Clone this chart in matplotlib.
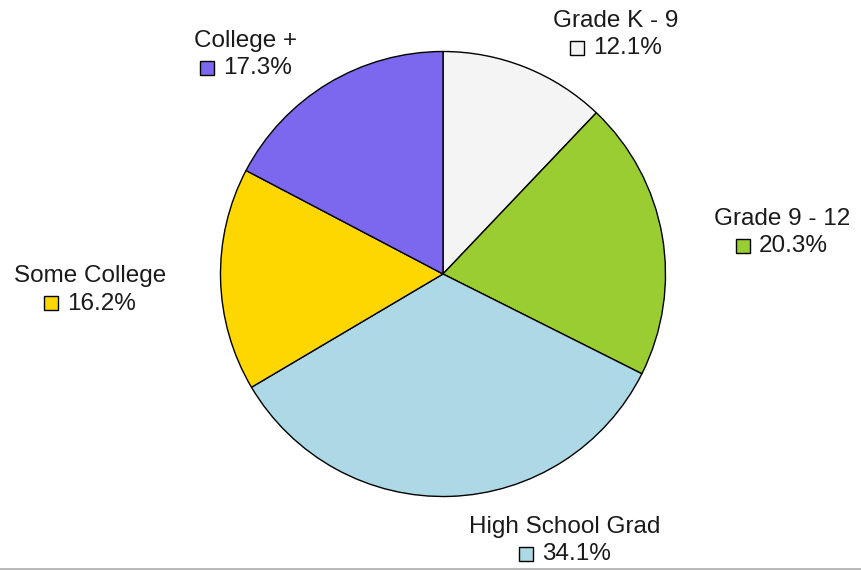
import matplotlib.pyplot as plt
from matplotlib.patches import Rectangle

categories = ["Grade K - 9", "Grade 9 - 12", "High School Grad", "Some College", "College +"]
shares = [12.1, 20.3, 34.1, 16.2, 17.3]
colors = ["#f4f4f4", "#9acd32", "#add8e6", "#ffd700", "#7b68ee"]

# label layout in pixels: centre x, baseline of the title line
label_pos = [(616, 27), (782, 225), (565, 533), (90, 282), (246, 47)]

W, H = 861, 570
fig = plt.figure(figsize=(W / 100, H / 100), dpi=100)
ax = fig.add_axes([0, 0, 1, 1])

# y axis is flipped so pixel coordinates read top-down;
# counterclock in data space therefore draws clockwise on screen
ax.pie(shares, colors=colors, startangle=-90, counterclock=True,
       center=(443, 274), radius=222.5,
       wedgeprops=dict(edgecolor="black", linewidth=1.0))
ax.set_xlim(0, W)
ax.set_ylim(H, 0)
ax.set_aspect("equal")
ax.axis("off")

font = dict(family="Liberation Sans", size=17.5, color="#1a1a1a")
renderer = fig.canvas.get_renderer()
sq = 14
gap = 9

for name, val, col, (cx, by) in zip(categories, shares, colors, label_pos):
    ax.text(cx, by, name, ha="center", va="baseline", **font)
    t = ax.text(0, by + 27.5, "%.1f%%" % val, ha="left", va="baseline", **font)
    bb = t.get_window_extent(renderer)
    tw = bb.width
    total = sq + gap + tw
    x0 = cx - total / 2
    t.set_x(x0 + sq + gap)
    ax.add_patch(Rectangle((x0, by + 27.5 - sq), sq, sq, facecolor=col,
                           edgecolor="black", linewidth=1.0))

ax.axhline(568.5, color="#b4b4b4", linewidth=2)

fig.savefig("out.png", dpi=100)
